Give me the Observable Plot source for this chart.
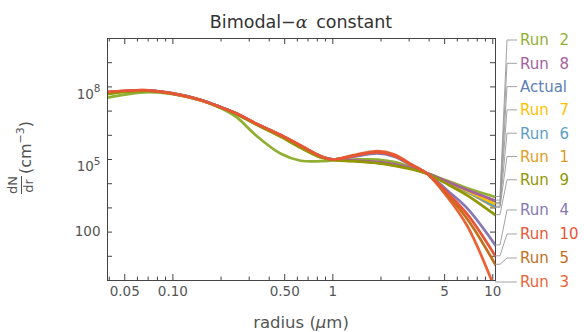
<!DOCTYPE html>
<html><head><meta charset="utf-8">
<script src="https://cdn.jsdelivr.net/npm/d3@7"></script>
<script src="https://cdn.jsdelivr.net/npm/@observablehq/plot@0.6"></script>
<style>
html,body{margin:0;padding:0;background:#fff;overflow:hidden}
svg{display:block;font-family:"DejaVu Sans",sans-serif}
</style>
</head><body><div id="chart"></div>
<script>
// radius grid (µm)
const radius = [0.039, 0.05, 0.07, 0.1, 0.15, 0.2, 0.25, 0.33, 0.47, 0.63, 0.84, 1, 1.35, 1.9, 2.4, 3.1, 3.9, 5.2, 7, 10.4];
// series values as log10(dN/dr)
const actual = [7.76, 7.82, 7.85, 7.73, 7.46, 7.16, 6.90, 6.48, 5.98, 5.52, 5.12, 5.00, 4.95, 4.88, 4.79, 4.63, 4.42, 4.07, 3.70, 3.20];
const run1  = [7.74, 7.81, 7.84, 7.72, 7.45, 7.15, 6.89, 6.47, 5.97, 5.50, 5.10, 4.99, 4.94, 4.86, 4.77, 4.62, 4.41, 4.04, 3.64, 3.00];
const run2  = [7.55, 7.68, 7.78, 7.70, 7.44, 7.12, 6.75, 6.00, 5.25, 4.95, 4.93, 4.96, 5.00, 5.00, 4.90, 4.68, 4.43, 4.12, 3.80, 3.45];
const run3  = [7.80, 7.84, 7.86, 7.72, 7.44, 7.14, 6.90, 6.49, 6.02, 5.58, 5.14, 5.00, 5.18, 5.35, 5.22, 4.80, 4.40, 3.45, 2.20, -0.40];
const run4  = [7.77, 7.82, 7.85, 7.73, 7.46, 7.16, 6.90, 6.48, 6.00, 5.55, 5.12, 5.00, 5.12, 5.25, 5.13, 4.76, 4.42, 3.72, 2.95, 1.45];
const run5  = [7.78, 7.83, 7.85, 7.72, 7.45, 7.15, 6.90, 6.48, 6.01, 5.56, 5.13, 5.00, 5.16, 5.30, 5.18, 4.78, 4.41, 3.55, 2.50, 0.65];
const run6  = [7.75, 7.81, 7.84, 7.72, 7.45, 7.15, 6.89, 6.47, 5.98, 5.52, 5.11, 5.00, 4.95, 4.87, 4.78, 4.63, 4.42, 4.05, 3.66, 3.05];
const run7  = [7.74, 7.81, 7.84, 7.72, 7.45, 7.15, 6.89, 6.47, 5.98, 5.52, 5.11, 5.00, 4.96, 4.89, 4.80, 4.64, 4.42, 4.07, 3.69, 3.15];
const run8  = [7.76, 7.82, 7.85, 7.73, 7.46, 7.16, 6.90, 6.48, 5.99, 5.53, 5.12, 5.01, 4.97, 4.90, 4.81, 4.65, 4.43, 4.09, 3.73, 3.30];
const run9  = [7.70, 7.79, 7.83, 7.72, 7.45, 7.14, 6.87, 6.45, 5.95, 5.48, 5.08, 4.98, 4.93, 4.85, 4.75, 4.60, 4.40, 3.98, 3.50, 2.70];
const run10 = [7.79, 7.84, 7.86, 7.72, 7.45, 7.15, 6.90, 6.49, 6.01, 5.57, 5.13, 5.00, 5.15, 5.30, 5.17, 4.78, 4.41, 3.62, 2.70, 1.00];

const seriesNames  = ["Actual", "Run 1", "Run 2", "Run 3", "Run 4", "Run 5", "Run 6", "Run 7", "Run 8", "Run 9", "Run 10"];
const seriesValues = [actual, run1, run2, run3, run4, run5, run6, run7, run8, run9, run10];
const seriesColors = ["#5E81B5", "#E19C24", "#8FB032", "#EB6235", "#8778B3", "#C56E1A", "#5D9EC7", "#FFBF00", "#A5609D", "#929600", "#E95536"];
const legendOrder  = ["Run 2", "Run 8", "Actual", "Run 7", "Run 6", "Run 1", "Run 9", "Run 4", "Run 10", "Run 5", "Run 3"];

const xMajorTicks = [0.05, 0.1, 0.5, 1, 5, 10];
const xTickLabels = ["0.05", "0.10", "0.50", "1", "5", "10"];
const xMinorTicks = [0.04, 0.06, 0.07, 0.08, 0.09, 0.2, 0.3, 0.4, 0.6, 0.7, 0.8, 0.9, 2, 3, 4, 6, 7, 8, 9];
const yTicks = [1, 1e1, 1e2, 1e3, 1e4, 1e5, 1e6, 1e7, 1e8, 1e9, 1e10];
const yLabelTicks = [1e2, 1e5, 1e8];
const yTickLabels = ["100", "10^5", "10^8"];

const titleText = ["Bimodal\u2212", "\u03B1", " constant"];
const xLabelText = ["radius (", "\u03BC", "m)"];

const table = [];
seriesNames.forEach((s, k) => radius.forEach((r, i) => table.push({series: s, r, N: Math.pow(10, seriesValues[k][i])})));

const W = 584, H = 332, mL = 107, mR = 89, mT = 38, mB = 52;
const fw = W - mL - mR, fh = H - mT - mB;
const axisColor = "#444";
const chart = Plot.plot({
  width: W, height: H,
  marginLeft: mL, marginRight: mR, marginTop: mT, marginBottom: mB,
  style: {fontFamily: '"DejaVu Sans", sans-serif', fontSize: "13.5px", background: "#fff", overflow: "visible"},
  x: {type: "log", domain: [0.039, 10.4], axis: null},
  y: {type: "log", domain: [1, 1e10], axis: null},
  color: {domain: seriesNames, range: seriesColors},
  marks: [
    // inward ticks on all four sides
    Plot.tickX(xMajorTicks, {x: d => d, insetTop: fh - 6, stroke: axisColor}),
    Plot.tickX(xMajorTicks, {x: d => d, insetBottom: fh - 6, stroke: axisColor}),
    Plot.tickX(xMinorTicks, {x: d => d, insetTop: fh - 3.5, stroke: axisColor}),
    Plot.tickX(xMinorTicks, {x: d => d, insetBottom: fh - 3.5, stroke: axisColor}),
    Plot.tickY(yTicks, {y: d => d, insetRight: fw - 5, stroke: axisColor}),
    Plot.tickY(yTicks, {y: d => d, insetLeft: fw - 5, stroke: axisColor}),
    // tick labels
    Plot.text(xMajorTicks, {x: d => d, text: (d, i) => xTickLabels[i], frameAnchor: "bottom", dy: 15, fill: "#555"}),
    Plot.text(yLabelTicks, {y: d => d, text: (d, i) => yTickLabels[i], frameAnchor: "left", dx: -7, textAnchor: "end", fill: "#555"}),
    // series
    Plot.line(table, {x: "r", y: "N", z: "series", stroke: "series", strokeWidth: 2.7, curve: "catmull-rom", clip: true}),
    Plot.frame({stroke: axisColor, strokeWidth: 1})
  ]
});
document.getElementById("chart").appendChild(chart);

const svg = d3.select(chart);
// superscript tick labels
svg.selectAll("text").each(function () {
  const t = this.textContent;
  if (t.includes("^")) {
    const [b, e] = t.split("^");
    const sel = d3.select(this);
    sel.text(b).attr("dy", "0.55em");
    sel.append("tspan").attr("dy", "-0.62em").attr("font-size", "10.5px").text(e);
  }
});

const xs = chart.scale("x"), ys = chart.scale("y");
const yTop = mT, yBot = H - mB;
const cx = mL + fw / 2;

// title
const title = svg.append("text").attr("x", cx).attr("y", 28).attr("text-anchor", "middle")
  .attr("font-size", "17.5px").attr("fill", "#333").attr("word-spacing", "3px");
title.append("tspan").text(titleText[0]);
title.append("tspan").attr("font-style", "italic").attr("font-family", "DejaVu Serif, serif").text(titleText[1]);
title.append("tspan").text(titleText[2]);

// x label
const xl = svg.append("text").attr("x", cx).attr("y", 328).attr("text-anchor", "middle")
  .attr("font-size", "16.5px").attr("fill", "#555");
xl.append("tspan").text(xLabelText[0]);
xl.append("tspan").attr("font-style", "italic").text(xLabelText[1]);
xl.append("tspan").text(xLabelText[2]);

// y label: dN/dr (cm^-3), rotated (local x = -screenY, local y = screenX)
const yl = svg.append("g").attr("transform", "rotate(-90)").attr("fill", "#555");
yl.append("text").attr("x", -185).attr("y", 17).attr("text-anchor", "middle").attr("font-size", "13px").text("dN");
yl.append("line").attr("x1", -194).attr("x2", -176).attr("y1", 21.5).attr("y2", 21.5).attr("stroke", "#555").attr("stroke-width", 1);
yl.append("text").attr("x", -186).attr("y", 32.5).attr("text-anchor", "middle").attr("font-size", "13px").text("dr");
const cm = yl.append("text").attr("x", -174).attr("y", 31).attr("text-anchor", "start").attr("font-size", "16px");
cm.append("tspan").text("(cm");
cm.append("tspan").attr("dy", "-7").attr("font-size", "11px").text("\u22123");
cm.append("tspan").attr("dy", "7").text(")");

// callout legend
const lg = svg.append("g");
legendOrder.forEach((name, i) => {
  const k = seriesNames.indexOf(name);
  const vals = seriesValues[k];
  const xe = xs.apply(radius[radius.length - 1]);
  let ye = ys.apply(Math.pow(10, vals[vals.length - 1]));
  ye = Math.max(yTop, Math.min(yBot + 2, ye));
  const slot = i < 7 ? 40 + i * 23.3 : 210 + (i - 7) * 24;
  lg.append("path").attr("d", `M${xe},${ye}L${xe + 5},${ye}L${xe + 12},${slot}L${xe + 22},${slot}`)
    .attr("fill", "none").attr("stroke", "#999").attr("stroke-width", 0.9);
  lg.append("text").attr("x", xe + 25).attr("y", slot).attr("dy", "0.36em").attr("text-anchor", "start")
    .attr("font-size", "15px").attr("word-spacing", "6px").attr("fill", seriesColors[k]).text(name);
});
</script>
</body></html>
